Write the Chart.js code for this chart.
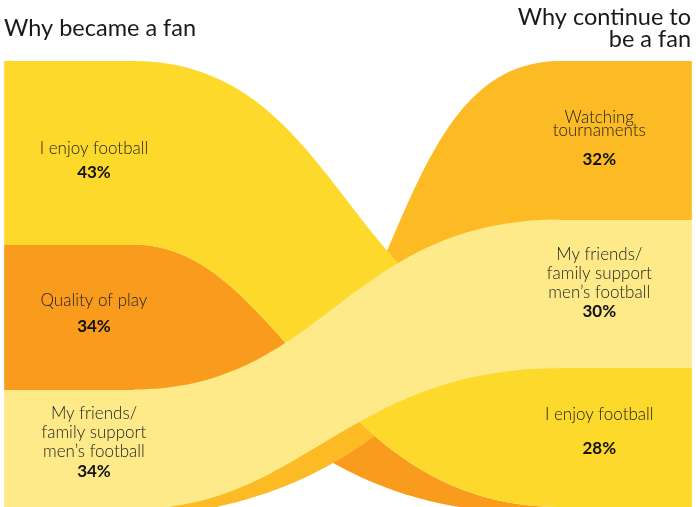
<!DOCTYPE html>
<html>
<head>
<meta charset="utf-8">
<script src="https://cdn.jsdelivr.net/npm/chart.js@4.4.1/dist/chart.umd.min.js"></script>
<style>
  body { margin: 0; background: #fff; }
  #wrap { width: 696px; height: 507px; }
</style>
</head>
<body>
<div id="wrap"><canvas id="fans" width="696" height="507"></canvas></div>
<script>
// left column - why people became fans, % of respondents
var leftLabels = [['I enjoy football'], ['Quality of play'], ['My friends/', 'family support', 'men’s football']]
var leftValues = [43, 34, 34]
// right column - why they continue to be fans
var rightLabels = [['Watching', 'tournaments'], ['My friends/', 'family support', 'men’s football'], ['I enjoy football']]
var rightValues = [32, 30, 28]

// ribbons: [top, bottom] at the left and at the right side, in %
// order = paint order (orange, amber, yellow, light yellow)
var ribbonLeft  = [[43, 77], [98.2, 106.4], [0, 43], [77, 105]]
var ribbonRight = [[90, 91.6], [0, 32], [56, 90], [32, 62]]

var leftColors  = ['#FDD92B', '#F99B1C', '#FEEA88']
var rightColors = ['#FCBA25', '#FEEA88', '#FDD92B']
var ribbonColors = ['#F99B1C', '#FCBA25', '#FDD92B', '#FEEA88']
// curve tension of each edge [near left, near right] as share of the gap
var ribbonBend = [
  [[.35, .55], [.4, .6]],
  [[.67, .47], [.7, .05]],
  [[.5, .5], [.35, .55]],
  [[.45, .5], [.4, .5]]
]

// column edges on the x scale (0..100)
var colL = [0.6, 19.1], colR = [80.5, 99.4]
var textXL = 13.5, textXR = 86.1
// label placement: [first line, percent] in % of each side, line height in px
var leftText  = [[20.4, 26.2, 19], [56.2, 62.3, 19], [82.7, 96.1, 19]]
var rightText = [[11.5, 19.8, 13], [39.1, 50.6, 19], [71.4, 78.1, 19]]

function stack(vals) {
  var out = [], s = 0
  vals.forEach(function(v){ out.push([s, s + v]); s += v })
  return out
}

var sankeyLook = {
  id: 'sankeyLook',
  afterDraw: function(chart) {
    var ctx = chart.ctx
    var xs = chart.scales.x, yl = chart.scales.yl, yr = chart.scales.yr
    var xL = xs.getPixelForValue(colL[1]), xR = xs.getPixelForValue(colR[0])
    var x0 = xs.getPixelForValue(colL[0]), x1 = xs.getPixelForValue(colR[1])
    var W = xR - xL

    ctx.save()
    // ribbons
    ribbonLeft.forEach(function(l, i){
      var r = ribbonRight[i], b = ribbonBend[i]
      var lt = yl.getPixelForValue(l[0]), lb = yl.getPixelForValue(l[1])
      var rt = yr.getPixelForValue(r[0]), rb = yr.getPixelForValue(r[1])
      ctx.beginPath()
      ctx.moveTo(xL, lt)
      ctx.bezierCurveTo(xL + b[0][0] * W, lt, xR - b[0][1] * W, rt, xR, rt)
      ctx.lineTo(xR, rb)
      ctx.bezierCurveTo(xR - b[1][1] * W, rb, xL + b[1][0] * W, lb, xL, lb)
      ctx.closePath()
      ctx.fillStyle = ribbonColors[i]
      ctx.fill()
    })

    // columns on top, overlapping the ribbon ends by a pixel
    stack(leftValues).forEach(function(r, i){
      var y0 = yl.getPixelForValue(r[0]), y1 = yl.getPixelForValue(r[1])
      ctx.fillStyle = leftColors[i]
      ctx.fillRect(x0, Math.round(y0), xL + 1 - x0, Math.round(y1) - Math.round(y0))
    })
    stack(rightValues).forEach(function(r, i){
      var y0 = yr.getPixelForValue(r[0]), y1 = yr.getPixelForValue(r[1])
      ctx.fillStyle = rightColors[i]
      ctx.fillRect(xR - 1, Math.round(y0), x1 - xR + 1, Math.round(y1) - Math.round(y0))
    })

    // labels
    ctx.textAlign = 'center'
    ctx.textBaseline = 'middle'
    function labels(names, vals, spots, yScale, xText) {
      names.forEach(function(lines, i){
        var sp = spots[i]
        var y = yScale.getPixelForValue(sp[0])
        ctx.fillStyle = '#222'
        ctx.font = '300 17px Lato'
        lines.forEach(function(t, k){ ctx.fillText(t, xs.getPixelForValue(xText), y + k * sp[2]) })
        ctx.fillStyle = '#111'
        ctx.font = 'bold 17px Lato'
        ctx.fillText(vals[i] + '%', xs.getPixelForValue(xText), yScale.getPixelForValue(sp[1]))
      })
    }
    labels(leftLabels, leftValues, leftText, yl, textXL)
    labels(rightLabels, rightValues, rightText, yr, textXR)

    // column headings
    ctx.fillStyle = '#1a1a1a'
    ctx.font = '23.5px Lato'
    ctx.textBaseline = 'alphabetic'
    ctx.textAlign = 'left'
    ctx.fillText('Why became a fan', 4, 36)
    ctx.textAlign = 'right'
    ctx.fillText('Why continue to', 691, 25)
    ctx.fillText('be a fan', 691, 47)
    ctx.restore()
  }
}

new Chart(document.getElementById('fans'), {
  type: 'scatter',
  data: { datasets: [] },
  options: {
    responsive: false,
    animation: false,
    layout: { padding: { top: 61, left: 0, right: 0, bottom: 0 } },
    plugins: { legend: { display: false }, tooltip: { enabled: false } },
    scales: {
      x:  { type: 'linear', min: 0, max: 100, display: false },
      yl: { type: 'linear', position: 'left', min: 0, max: 104.5, reverse: true, display: false },
      yr: { type: 'linear', position: 'right', min: 0, max: 90, reverse: true, display: false }
    }
  },
  plugins: [sankeyLook]
})
</script>
</body>
</html>
